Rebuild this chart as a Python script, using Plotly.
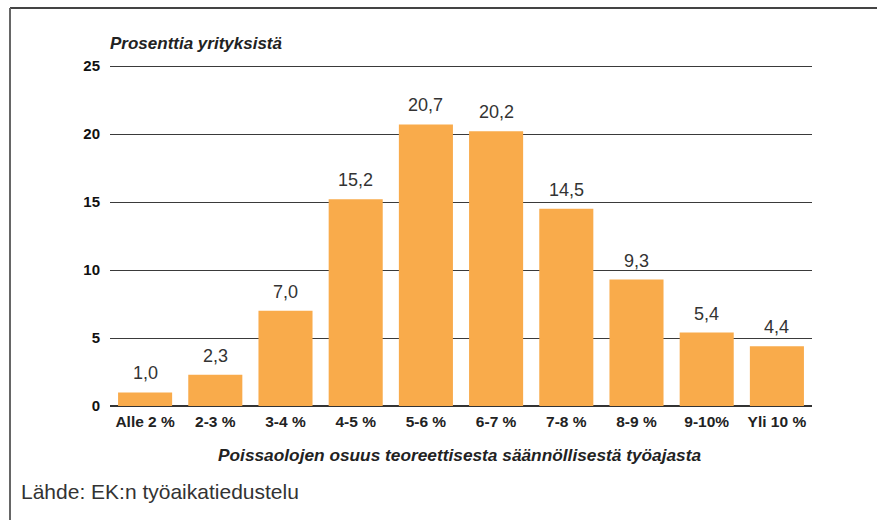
import plotly.graph_objects as go

categories = ["Alle 2 %", "2-3 %", "3-4 %", "4-5 %", "5-6 %", "6-7 %", "7-8 %", "8-9 %", "9-10%", "Yli 10 %"]
values = [1.0, 2.3, 7.0, 15.2, 20.7, 20.2, 14.5, 9.3, 5.4, 4.4]
value_labels = ["1,0", "2,3", "7,0", "15,2", "20,7", "20,2", "14,5", "9,3", "5,4", "4,4"]
y_ticks = [0, 5, 10, 15, 20, 25]

W, H = 877, 520
L, R, T, B = 110, 65, 62, 114
pw, ph = W - L - R, H - T - B
Y_TOP = 25 + 4 / 13.6

def px_x(p):
    return (p - L) / pw

def px_y(p):
    return (H - B - p) / ph

FONT = "Liberation Sans, Arial, sans-serif"

fig = go.Figure(go.Bar(
    x=categories, y=values,
    marker=dict(color="#F9AB4B", line=dict(width=0)),
    hoverinfo="x+y",
))

value_annotations = [
    dict(x=c, y=v, xref="x", yref="y", text=t, showarrow=False,
         yanchor="bottom", xanchor="center", yshift=7,
         font=dict(family=FONT, size=18, color="#333333"))
    for c, v, t in zip(categories, values, value_labels)
]

fig.update_layout(
    width=W, height=H,
    margin=dict(l=L, r=R, t=T, b=B),
    plot_bgcolor="white", paper_bgcolor="white",
    bargap=0.23,
    showlegend=False,
    font=dict(family=FONT, color="#222222"),
    xaxis=dict(
        showgrid=False, showline=False, ticks="", ticklabelstandoff=4,
        tickfont=dict(size=15.5, color="#222222", family=FONT, weight="bold"),
    ),
    yaxis=dict(
        range=[0, Y_TOP], tickvals=y_ticks, ticktext=[str(v) for v in y_ticks],
        showgrid=True, gridcolor="#3a3a3a", gridwidth=1.2,
        zeroline=True, zerolinecolor="#333333", zerolinewidth=1.5,
        showline=False, ticks="", ticklabelstandoff=9,
        tickfont=dict(size=15, color="#111111", family=FONT, weight="bold"),
    ),
    shapes=[
        dict(type="line", xref="paper", yref="paper",
             x0=px_x(10), x1=px_x(W + 5), y0=px_y(8), y1=px_y(8),
             line=dict(color="#444444", width=2)),
        dict(type="line", xref="paper", yref="paper",
             x0=px_x(10), x1=px_x(10), y0=px_y(8), y1=px_y(H + 5),
             line=dict(color="#666666", width=2)),
    ],
    annotations=value_annotations + [
        dict(text="<b><i>Prosenttia yrityksistä</i></b>", xref="paper", yref="paper",
             x=px_x(108), y=px_y(44), xanchor="left", yanchor="middle", showarrow=False,
             font=dict(size=17, color="#222222")),
        dict(text="<b><i>Poissaolojen osuus teoreettisesta säännöllisestä työajasta</i></b>",
             xref="paper", yref="paper", x=px_x(459), y=px_y(455), xanchor="center", yanchor="middle",
             showarrow=False, font=dict(size=17.3, color="#222222")),
        dict(text="Lähde: EK:n työaikatiedustelu", xref="paper", yref="paper",
             x=px_x(19), y=px_y(491), xanchor="left", yanchor="middle", showarrow=False,
             font=dict(size=21, color="#333333")),
    ],
)

fig.write_html("out.html", config={"displayModeBar": False},
               post_script="document.body.style.margin='0px';")
